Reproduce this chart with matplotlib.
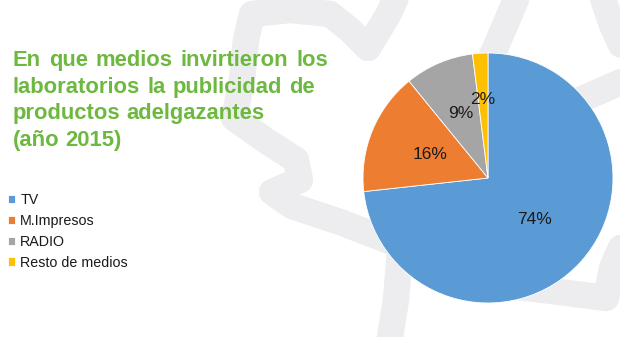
import numpy as np
import matplotlib
matplotlib.use("Agg")
import matplotlib.pyplot as plt

plt.rcParams['font.family'] = ['Liberation Sans', 'DejaVu Sans']

# datos: inversión publicitaria por medio (%)
medios = ["TV", "M.Impresos", "RADIO", "Resto de medios"]
porcentajes = [74, 16, 9, 2]
colores = ["#5B9BD5", "#ED7D31", "#A5A5A5", "#FFC000"]

titulo = ["En que medios invirtieron los",
          "laboratorios la publicidad de",
          "productos adelgazantes",
          "(año 2015)"]

W, H = 620, 337
fig = plt.figure(figsize=(W / 100, H / 100), dpi=100)
fig.patch.set_facecolor("white")

# capa de fondo en pixeles (y hacia abajo)
bg = fig.add_axes([0, 0, 1, 1])
bg.set_xlim(0, W)
bg.set_ylim(H, 0)
bg.axis("off")

# hoja de fondo (trazo gris claro)
hoja = [
    [(402, -15), (388, 15), (368, 48), (350, 30), (330, 14), (290, 10),
     (252, 14), (246, 40), (242, 80), (234, 118), (265, 140), (296, 160),
     (300, 180), (272, 192), (292, 206), (340, 222), (400, 245), (440, 250)],
    [(400, 250), (396, 300), (388, 350)],
    [(488, 65), (503, 30), (520, -10)],
    [(600, -10), (612, 25), (628, 60)],
    [(580, 100), (630, 78)],
    [(500, 285), (560, 292), (606, 298), (612, 268), (628, 232)],
]
for tramo in hoja:
    xs, ys = zip(*tramo)
    bg.plot(xs, ys, color="#EDEDEF", lw=19, solid_capstyle="round",
            solid_joinstyle="round", zorder=0)

# título justificado palabra por palabra
verde = "#6DB83F"
fs_titulo = 15.8
renderer = fig.canvas.get_renderer()
x0 = 13
bases = [66, 93, 119, 146]
derechas = [328, 315, None, None]
for linea, yb, xr in zip(titulo, bases, derechas):
    palabras = linea.split()
    textos = [bg.text(0, yb, p, color=verde, fontsize=fs_titulo, fontweight="bold",
                      va="baseline", ha="left") for p in palabras]
    anchos = [t.get_window_extent(renderer).width for t in textos]
    espacio = bg.text(0, yb, "a a", fontsize=fs_titulo, fontweight="bold")
    sp = espacio.get_window_extent(renderer).width
    espacio.remove()
    aa = bg.text(0, yb, "aa", fontsize=fs_titulo, fontweight="bold")
    sp -= aa.get_window_extent(renderer).width
    aa.remove()
    if xr is not None and len(palabras) > 1:
        sp = (xr - x0 - sum(anchos)) / (len(palabras) - 1)
    x = x0
    for t, w in zip(textos, anchos):
        t.set_x(x)
        x += w + sp

# gráfico de torta
ax = fig.add_axes([363 / W, (H - 303) / H, 250 / W, 250 / H])
cuñas, _ = ax.pie(porcentajes, colors=colores, startangle=90, counterclock=False,
                  radius=1, wedgeprops=dict(edgecolor="white", linewidth=0.6))
ax.set_xlim(-1, 1)
ax.set_ylim(-1, 1)
ax.set_aspect("equal")

dist = [0.5, 0.5, 0.56, 0.63]
for c, v, d in zip(cuñas, porcentajes, dist):
    ang = np.deg2rad((c.theta1 + c.theta2) / 2)
    ax.text(d * np.cos(ang), d * np.sin(ang), f"{v}%", ha="center", va="center",
            fontsize=12.5, color="#1a1a1a")

fig.legend(cuñas, medios, loc="upper left", bbox_to_anchor=(8 / W, 1 - 193 / H),
           frameon=False, fontsize=10.3, handlelength=0.5, handleheight=0.5,
           handletextpad=0.35, labelspacing=0.48, borderpad=0, borderaxespad=0,
           labelcolor="#1a1a1a")

fig.savefig("out.png", dpi=100)
